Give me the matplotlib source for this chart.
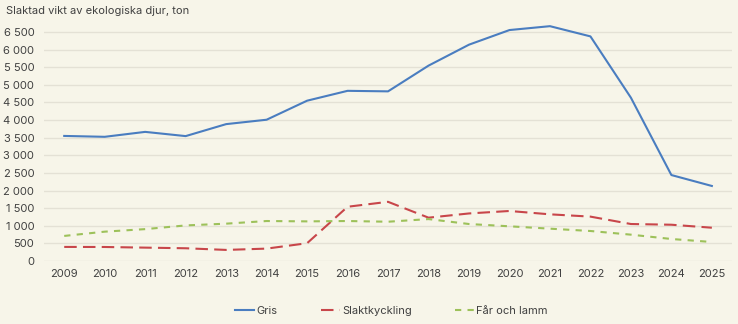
import matplotlib
matplotlib.use("Agg")
import matplotlib.pyplot as plt
from matplotlib.ticker import FuncFormatter, FixedLocator

years = list(range(2009, 2026))
gris = [3550, 3525, 3665, 3545, 3885, 4010, 4550, 4830, 4815, 5545, 6140, 6555, 6665, 6375, 4635, 2440, 2130]
slaktkyckling = [400, 398, 380, 362, 315, 352, 505, 1540, 1680, 1230, 1350, 1420, 1325, 1260, 1050, 1030, 945]
far_och_lamm = [712, 833, 905, 1010, 1060, 1135, 1125, 1135, 1115, 1190, 1050, 985, 918, 852, 748, 625, 540]
yticks = list(range(0, 7000, 500))

bg = "#F7F5E9"
plt.rcParams['font.family'] = ['Inter', 'DejaVu Sans']

fig = plt.figure(figsize=(7.38, 3.24), dpi=100, facecolor=bg)
ax = fig.add_axes([0.0596, 0.1944, 0.9324, 0.7395], facecolor=bg)

x = list(range(len(years)))
ax.plot(x, gris, color="#4A7DC0", lw=1.5, label="Gris")
ax.plot(x, slaktkyckling, color="#C8464A", lw=1.5, dashes=(6, 3), label="Slaktkyckling")
ax.plot(x, far_och_lamm, color="#9DC15A", lw=1.5, dashes=(3, 3), label="Får och lamm")

ax.set_xlim(-0.5, len(years) - 0.5)
ax.set_ylim(0, 6800)
ax.yaxis.set_major_locator(FixedLocator(yticks))
ax.yaxis.set_major_formatter(FuncFormatter(lambda v, p: f"{int(v):,}".replace(",", " ")))
ax.set_xticks(x)
ax.set_xticklabels([str(y) for y in years])
ax.grid(axis="y", color="#E4E1D5", lw=1)
ax.set_axisbelow(True)
for s in ax.spines.values():
    s.set_visible(False)
ax.tick_params(length=0, labelsize=8, colors="#404040", pad=6)
ax.tick_params(axis="y", pad=7)

fig.text(0.008, 0.965, "Slaktad vikt av ekologiska djur, ton", fontsize=8, color="#404040", va="center")

leg = ax.legend(loc="center", bbox_to_anchor=(0.505, -0.21), ncol=3, frameon=False,
                fontsize=8, handlelength=1.7, handletextpad=0.2, columnspacing=3.9,
                labelcolor="#404040")

fig.savefig("out.png", dpi=100, facecolor=bg)
